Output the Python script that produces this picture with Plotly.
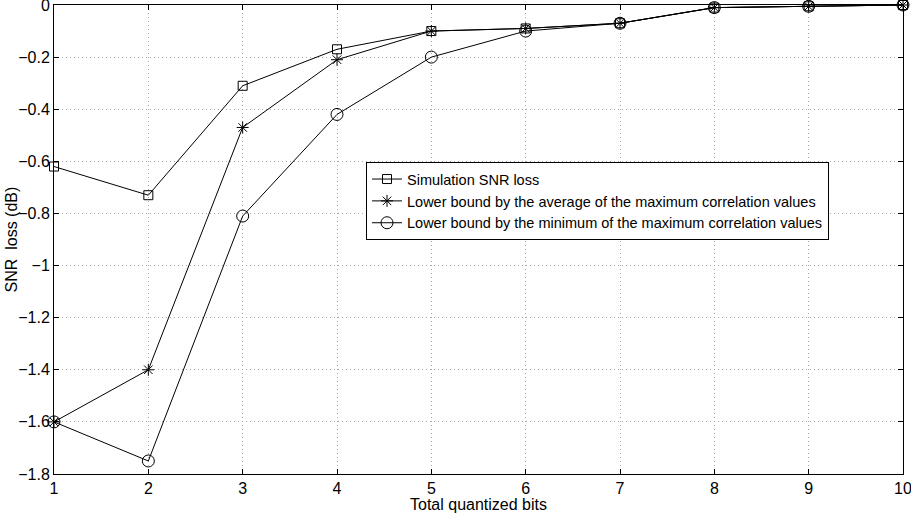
import plotly.graph_objects as go

# Total quantized bits on the horizontal axis
bits = [1, 2, 3, 4, 5, 6, 7, 8, 9, 10]

# SNR loss in dB for each curve
sim_loss = [-0.62, -0.73, -0.31, -0.17, -0.10, -0.09, -0.07, -0.01, -0.005, 0.0]
avg_bound = [-1.60, -1.40, -0.47, -0.21, -0.10, -0.09, -0.07, -0.01, -0.005, 0.0]
min_bound = [-1.60, -1.75, -0.81, -0.42, -0.20, -0.10, -0.07, -0.01, -0.005, 0.0]

names = [
    "Simulation SNR loss",
    "Lower bound by the average of the maximum correlation values",
    "Lower bound by the minimum of the maximum correlation values",
]

x_ticks = list(range(1, 11))
y_ticks = [0, -0.2, -0.4, -0.6, -0.8, -1.0, -1.2, -1.4, -1.6, -1.8]
y_tick_text = ["0", "\u22120.2", "\u22120.4", "\u22120.6", "\u22120.8", "\u22121",
               "\u22121.2", "\u22121.4", "\u22121.6", "\u22121.8"]

FONT = "Liberation Sans, Arial, Helvetica, sans-serif"
EPS = 1e-6

fig = go.Figure()
series = [
    (sim_loss, "square-open", 9),
    (avg_bound, "asterisk-open", 10),
    (min_bound, "circle-open", 12),
]
for (vals, sym, size), name in zip(series, names):
    fig.add_trace(go.Scatter(
        x=bits, y=vals, name=name, mode="lines+markers",
        line=dict(color="black", width=1),
        marker=dict(symbol=sym, size=size, color="black",
                    line=dict(color="black", width=1)),
        cliponaxis=False,
    ))

axis_common = dict(
    showline=True, linecolor="black", linewidth=1, mirror="ticks",
    ticks="inside", ticklen=5, tickcolor="black", tickwidth=1,
    showgrid=True, gridcolor="#a8a8a8", gridwidth=1, griddash="1px,3px",
    zeroline=False, ticklabeloverflow="allow", automargin=False,
    tickfont=dict(family=FONT, size=16, color="black"),
)

fig.update_xaxes(range=[1 - EPS, 10 + EPS], tickvals=x_ticks, **axis_common)
fig.update_yaxes(range=[-1.8 - EPS, 0 + EPS], tickvals=y_ticks,
                 ticktext=y_tick_text, **axis_common)

fig.update_layout(
    width=911, height=519,
    margin=dict(l=54, r=8, t=5, b=45, autoexpand=False),
    paper_bgcolor="white", plot_bgcolor="white",
    font=dict(family=FONT, size=16, color="black"),
    showlegend=True,
    legend=dict(
        x=0.3675, y=0.665, xanchor="left", yanchor="top",
        bgcolor="white", bordercolor="black", borderwidth=1,
        font=dict(family=FONT, size=14.5, color="black"),
        tracegroupgap=0, itemwidth=30,
    ),
    annotations=[
        dict(text="Total quantized bits", xref="paper", yref="paper",
             x=0.5, y=-0.066, xanchor="center", yanchor="middle",
             showarrow=False, font=dict(family=FONT, size=16, color="black")),
        dict(text="SNR\u00a0 loss (dB)", xref="paper", yref="paper",
             x=-0.0495, y=0.5, xanchor="center", yanchor="middle",
             textangle=-90, showarrow=False,
             font=dict(family=FONT, size=16, color="black")),
    ],
)

fig.write_html("out.html")
